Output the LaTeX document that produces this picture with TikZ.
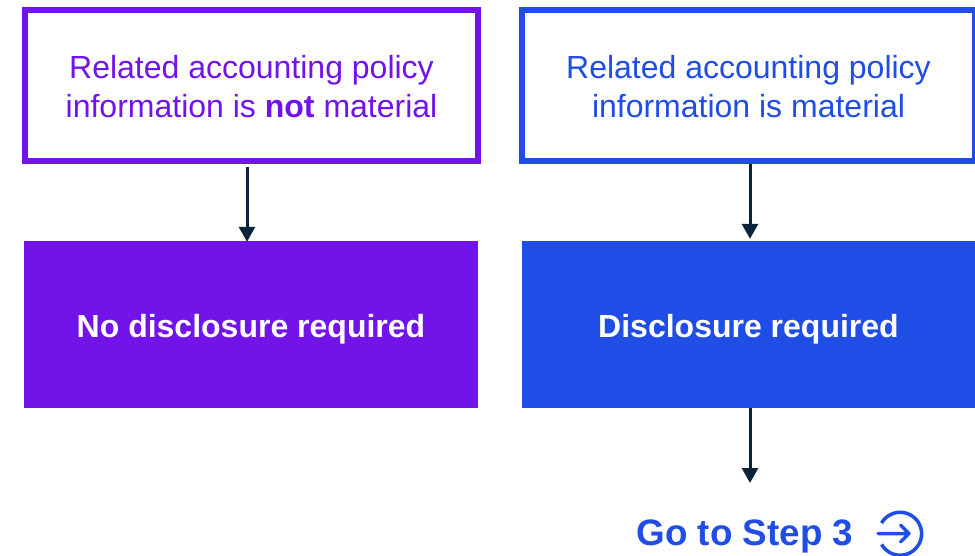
\documentclass[tikz,border=0pt]{standalone}
\usepackage{fontspec}
\setmainfont{Liberation Sans}
\usetikzlibrary{arrows.meta}
\definecolor{notviolet}{HTML}{7213EA}
\definecolor{isblue}{HTML}{1F4DE5}
\definecolor{linknavy}{HTML}{0C233C}
\tikzset{
  outlinebox/.style={draw, line width=6pt, fill=white, minimum width=453pt, minimum height=151pt, align=center, inner sep=0pt, font=\fontsize{32}{39}\selectfont},
  solidbox/.style={minimum width=454pt, minimum height=167pt, text=white, inner sep=0pt, text height=26pt, text depth=0pt, font=\fontsize{32}{39}\selectfont\bfseries},
  flowarrow/.style={draw=linknavy, line width=3pt, -{Triangle[length=15pt,width=16pt]}},
}
\begin{document}
\begin{tikzpicture}[x=1pt,y=-1pt]
  \useasboundingbox (0,0) rectangle (975,555);
  \node[outlinebox, draw=notviolet, text=notviolet] (notmaterial) at (251.5,85.5) {\rule{0pt}{25pt}Related accounting policy\\information is \textbf{not} material};
  \node[outlinebox, draw=isblue, text=isblue] (material) at (748.5,85.5) {\rule{0pt}{25pt}Related accounting policy\\information is material};
  \node[solidbox, fill=notviolet] (nodisclosure) at (251,324.5) {No disclosure required};
  \node[solidbox, fill=isblue] (disclosure) at (748.5,324.5) {Disclosure required};
  \node[inner sep=0pt, text=isblue, font=\fontsize{36.8}{44}\selectfont\bfseries, anchor=base] (gostep) at (745,545.5) {Go to Step 3};
  \coordinate (stepin) at (750,483);
  % arrows
  \draw[flowarrow] ([xshift=-4.5pt,yshift=-3pt]notmaterial.south) to ([xshift=-4pt,yshift=-1pt]nodisclosure.north);
  \draw[flowarrow] ([xshift=1.5pt]material.south) to ([xshift=1.5pt,yshift=2pt]disclosure.north);
  \draw[flowarrow] ([xshift=1.5pt]disclosure.south) to (stepin);
  % go to icon
  \draw[isblue, line width=3.5pt] (881.5,523) arc[start angle=-150, end angle=150, radius=21.5];
  \draw[isblue, line width=3.5pt, line cap=round, line join=round] (878,533.5) -- (909,533.5) (900.5,525) -- (909,533.5) -- (900.5,542);
\end{tikzpicture}
\end{document}
